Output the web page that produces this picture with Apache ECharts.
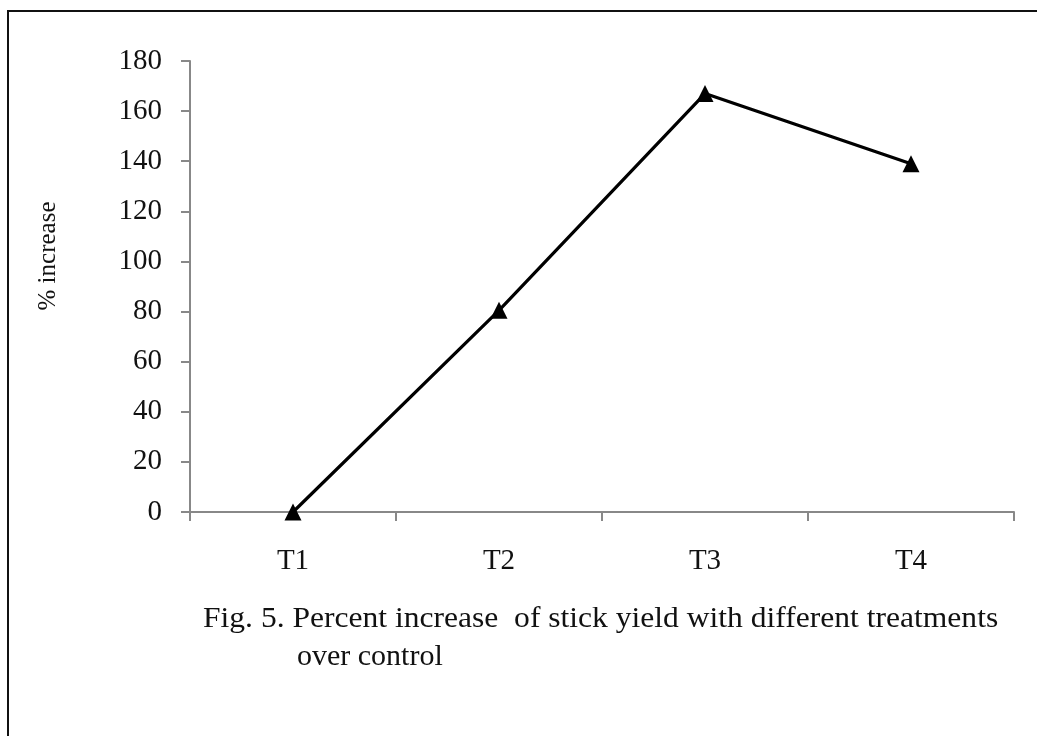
<!DOCTYPE html>
<html>
<head>
<meta charset="utf-8">
<script src="https://cdn.jsdelivr.net/npm/echarts@6/dist/echarts.min.js"></script>
<style>
html,body{margin:0;padding:0;background:#fff;overflow:hidden;}
#chart{position:absolute;left:0;top:0;width:1037px;height:736px;}
#frame{position:absolute;left:7px;top:10px;width:1100px;height:800px;border-left:2px solid #111;border-top:2px solid #111;pointer-events:none;}
</style>
</head>
<body>
<div id="chart"></div>
<div id="frame"></div>
<script>
const categories = ['T1', 'T2', 'T3', 'T4'];
const percentIncrease = [0, 80.5, 167, 139];
const yTicks = { min: 0, max: 180, interval: 20 };
const yAxisTitle = '% increase';
const captionLine1 = 'Fig. 5. Percent increase  of stick yield with different treatments';
const captionLine2 = 'over control';

const FONT = '"Liberation Serif", "Times New Roman", serif';
const chart = echarts.init(document.getElementById('chart'));
chart.setOption({
  animation: false,
  backgroundColor: '#ffffff',
  grid: { left: 190, top: 61, right: 23, bottom: 224 },
  xAxis: {
    type: 'category',
    data: categories,
    boundaryGap: true,
    axisLine: { show: true, lineStyle: { color: '#888', width: 2 } },
    axisTick: { show: true, length: 9, interval: 0, lineStyle: { color: '#888', width: 2 } },
    axisLabel: { color: '#111', fontFamily: FONT, fontSize: 29, margin: 35 },
    splitLine: { show: false }
  },
  yAxis: {
    type: 'value',
    min: yTicks.min, max: yTicks.max, interval: yTicks.interval,
    axisLine: { show: true, lineStyle: { color: '#888', width: 2 } },
    axisTick: { show: true, length: 9, lineStyle: { color: '#888', width: 2 } },
    axisLabel: { color: '#111', fontFamily: FONT, fontSize: 29, margin: 28 },
    splitLine: { show: false }
  },
  series: [{
    type: 'line',
    data: percentIncrease,
    symbol: 'triangle',
    symbolSize: 17,
    lineStyle: { color: '#000', width: 3.2 },
    itemStyle: { color: '#000' }
  }],
  graphic: [
    {
      type: 'text',
      x: 48, y: 256,
      rotation: Math.PI / 2,
      style: { text: yAxisTitle, fill: '#111', font: '25px ' + FONT, align: 'center', verticalAlign: 'middle' }
    },
    {
      type: 'text',
      x: 203, y: 619,
      scaleX: 1.052,
      style: { text: captionLine1, fill: '#111', font: '30px ' + FONT, align: 'left', verticalAlign: 'middle' }
    },
    {
      type: 'text',
      x: 297, y: 657,
      style: { text: captionLine2, fill: '#111', font: '30px ' + FONT, align: 'left', verticalAlign: 'middle' }
    }
  ]
});
</script>
</body>
</html>
